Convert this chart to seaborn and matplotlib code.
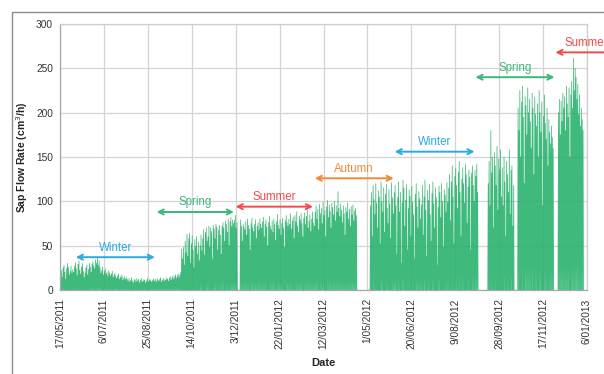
import numpy as np
import pandas as pd
import matplotlib
matplotlib.use("Agg")
import matplotlib.pyplot as plt
import matplotlib.dates as mdates
from matplotlib.lines import Line2D
import seaborn as sns

# Daily peak sap flow (cm³/h), one list per month; None = no record that day.
start_date = "2011-05-17"
may_2011 = [18, 22, 14, 25, 28, 20, 12, 24, 30, 26, 17, 21, 27, 19, 23]
jun_2011 = [20, 27, 31, 24, 16, 29, 33, 22, 18, 26, 30, 21, 14, 19, 25, 28, 17, 23, 30, 26,
            20, 29, 32, 27, 24, 34, 30, 36, 28, 33]
jul_2011 = [25, 19, 22, 26, 17, 21, 24, 18, 20, 15, 22, 19, 16, 18, 21, 14, 17, 19, 15, 13,
            16, 18, 12, 15, 14, 17, 11, 13, 15, 12, 14]
aug_2011 = [12, 10, 13, 9, 11, 14, 10, 8, 12, 11, 9, 13, 10, 12, 8, 11, 13, 9, 10, 12,
            11, 8, 10, 13, 9, 11, 12, 10, 9, 11, 13]
sep_2011 = [10, 12, 9, 13, 11, 10, 12, 14, 9, 11, 13, 10, 12, 11, 14, 12, 10, 13, 15, 11,
            14, 16, 12, 15, 17, 13, 16, 18, 14, 17]
oct_2011 = [20, 46, 35, 48, 28, 55, 42, 63, 38, 58, 64, 30, 52, 61, 45, 25, 57, 49, 60, 40,
            54, 33, 50, 62, 44, 58, 68, 39, 65, 70, 55]
nov_2011 = [60, 72, 48, 70, 66, 35, 73, 69, 58, 74, 71, 45, 68, 73, 62, 40, 72, 76, 70, 55,
            78, 74, 65, 80, 50, 77, 82, 72, 79, 75]
dec_2011 = [78, 84, 70, 76, None, None, None, 79, 72, 55, 74, 71, 68, 77, 62, 80, 73, 69, 45, 75,
            81, 70, 66, 74, 79, 58, 72, 76, 68, 80, 74]
jan_2012 = [70, 77, 82, 60, 74, 79, 71, 50, 76, 83, 72, 68, 78, 65, 80, 74, 56, 77, 85, 73,
            69, 79, 62, 75, 81, 70, 48, 78, 84, 76, 72]
feb_2012 = [80, 74, 86, 69, 78, 82, 58, 84, 77, 88, 72, 65, 83, 79, 86, 75, 60, 81, 87, 74,
            83, 90, 70, 78, 85, 66, 80, 88, 76]
mar_2012 = [72, 88, 95, 80, 91, 68, 97, 86, 92, 75, 99, 84, 90, 60, 94, 101, 82, 96, 89, 70,
            98, 93, 85, 100, 78, 95, 88, 111, 92, 83, 97]
apr_2012 = [90, 76, 95, 86, 62, 93, 88, 98, 80, 91, 72, 94, 85, 96, 78, 89, 92, 84] + [None] * 12
may_2012 = [None, None, None, 95, 110, 60, 118, 102, 85, 120, 98, 70, 112, 105, 52, 122, 100, 88,
            115, 65, 108, 119, 92, 75, 113, 97, 58, 121, 104, 86, 110]
jun_2012 = [118, 95, 40, 105, 122, 88, 110, 30, 98, 124, 115, 72, 101, 119, 45, 92, 113, 106, 60,
            117, 99, 85, 35, 108, 120, 94, 70, 111, 103, 80]
jul_2012 = [96, 118, 62, 105, 124, 90, 38, 112, 101, 119, 85, 55, 109, 122, 97, 70, 115, 104, 28,
            93, 117, 110, 82, 120, 100, 48, 113, 107, 88, 121, 99]
aug_2012 = [115, 130, 78, 122, 140, 105, 52, 128, 137, 118, 92, 133, 145, 110, 60, 125, 138, 120,
            98, 142, 130, 75, 116, 135, 127, 45, 132, 140, 118, 100, 135]
sep_2012 = [128, 142, 110] + [None] * 11 + [120, 145, 95, 180, 132, 150, 70, 155, 140, 118, 162,
                                            90, 148, 136, 158, 105]
oct_2012 = [138, 95, 150, 122, 60, 145, 130, 110, 158, 85, 135, 140, 72, 118, None, None, None,
            None, 205, 180, 225, 150, 212, 230, 195, 120, 218, 208, 175, 228, 200]
nov_2012 = [215, 190, 160, 222, 205, 130, 218, 198, 185, 210, 150, 225, 200, 178, 212, 95, 196,
            220, 188, 170, 205, 140, 192, 178, 165, 185, 172, 160, None, None]
dec_2012 = [None, None, None, 200, 215, 175, 213, 190, 222, 205, 218, 180, 230, 210, 195, 228,
            150, 220, 235, 205, 261, 225, 250, 240, 215, 232, 198, 220, 185, 205, 192]
jan_2013 = [180]
night_flow = 0

tick_labels = ["17/05/2011", "6/07/2011", "25/08/2011", "14/10/2011", "3/12/2011",
               "22/01/2012", "12/03/2012", "1/05/2012", "20/06/2012", "9/08/2012",
               "28/09/2012", "17/11/2012", "6/01/2013"]
y_ticks = [0, 50, 100, 150, 200, 250, 300]

seasons = ["Winter", "Spring", "Summer", "Autumn", "Winter", "Spring", "Summer"]
season_start = ["2011-06-04", "2011-09-04", "2011-12-03", "2012-03-02",
                "2012-06-01", "2012-09-01", "2012-12-01"]
season_end = ["2011-09-02", "2011-12-01", "2012-02-29", "2012-05-31",
              "2012-08-31", "2012-11-30", "2013-02-28"]
season_level = [37, 88, 94, 126, 156, 240, 268]
season_colors = ["#29abe2", "#3cb878", "#f04a4a", "#f5893a",
                 "#29abe2", "#3cb878", "#f04a4a"]

daily_peak = (may_2011 + jun_2011 + jul_2011 + aug_2011 + sep_2011 + oct_2011 + nov_2011
              + dec_2011 + jan_2012 + feb_2012 + mar_2012 + apr_2012 + may_2012 + jun_2012
              + jul_2012 + aug_2012 + sep_2012 + oct_2012 + nov_2012 + dec_2012 + jan_2013)

# Each recorded day: night low then midday peak; missing days split the trace.
t0 = pd.Timestamp(start_date)
rows = []
seg = 0
prev_ok = False
for d, peak in enumerate(daily_peak):
    if peak is None:
        if prev_ok:
            seg += 1
        prev_ok = False
        continue
    rows.append((t0 + pd.Timedelta(days=d), night_flow, seg))
    rows.append((t0 + pd.Timedelta(hours=24 * d + 13), peak, seg))
    rows.append((t0 + pd.Timedelta(days=d + 1), night_flow, seg))
    prev_ok = True
df = pd.DataFrame(rows, columns=["Date", "Flow", "segment"])

sns.set_style("white")
plt.rcParams["font.family"] = ["Liberation Sans", "DejaVu Sans"]

fig = plt.figure(figsize=(6.04, 3.74), dpi=100)
ax = fig.add_axes([60 / 604, 84 / 374, 527 / 604, 266 / 374])

sns.lineplot(data=df, x="Date", y="Flow", units="segment", estimator=None, sort=False,
             color="#25b06a", linewidth=0.55, alpha=0.88, ax=ax, legend=False)

tick_dates = [pd.to_datetime(t, format="%d/%m/%Y") for t in tick_labels]
ax.set_xlim(tick_dates[0], tick_dates[-1])
ax.set_ylim(y_ticks[0], y_ticks[-1])
ax.set_xticks(tick_dates)
ax.set_xticklabels(tick_labels, rotation=90, fontsize=7.3, color="#333333")
ax.set_yticks(y_ticks)
ax.set_yticklabels([str(v) for v in y_ticks], fontsize=7.3, color="#333333")
ax.tick_params(axis="x", length=4, width=0.8, color="#999999", pad=2)
ax.tick_params(axis="y", length=3, width=0.8, color="#999999", pad=2)

ax.grid(True, color="#d4d4d4", linewidth=0.9)
ax.set_axisbelow(True)
for name, sp in ax.spines.items():
    sp.set_visible(True)
    sp.set_color("#a8a8a8" if name in ("left", "bottom") else "#cfcfcf")
    sp.set_linewidth(0.9)

ax.set_xlabel("Date", fontsize=8, fontweight="bold", labelpad=6)
ax.set_ylabel("Sap Flow Rate (cm$^3$/h)", fontsize=7.5, fontweight="bold", labelpad=4)

for i, (name, s0, s1, lev, col) in enumerate(zip(seasons, season_start, season_end,
                                                  season_level, season_colors)):
    x0 = mdates.date2num(pd.Timestamp(s0))
    x1 = mdates.date2num(pd.Timestamp(s1))
    ax.annotate("", xy=(x1, lev), xytext=(x0, lev), annotation_clip=False,
                arrowprops=dict(arrowstyle="<->", color=col, lw=1.4,
                                mutation_scale=9, shrinkA=0, shrinkB=0))
    # the last label runs off the right edge of the panel
    xc = (x0 + x1) / 2 if i < len(seasons) - 1 else x0 + 35
    ax.text(xc, lev + 4, name, color=col, fontsize=8.3,
            ha="center", va="bottom", clip_on=False)

# Outer frame of the figure panel
fig.add_artist(Line2D([12 / 604, 12 / 604, 1.0], [0.0, 1 - 12 / 374, 1 - 12 / 374],
                      transform=fig.transFigure, color="#8c8c8c", linewidth=1.0))

fig.savefig("out.png", dpi=100)
